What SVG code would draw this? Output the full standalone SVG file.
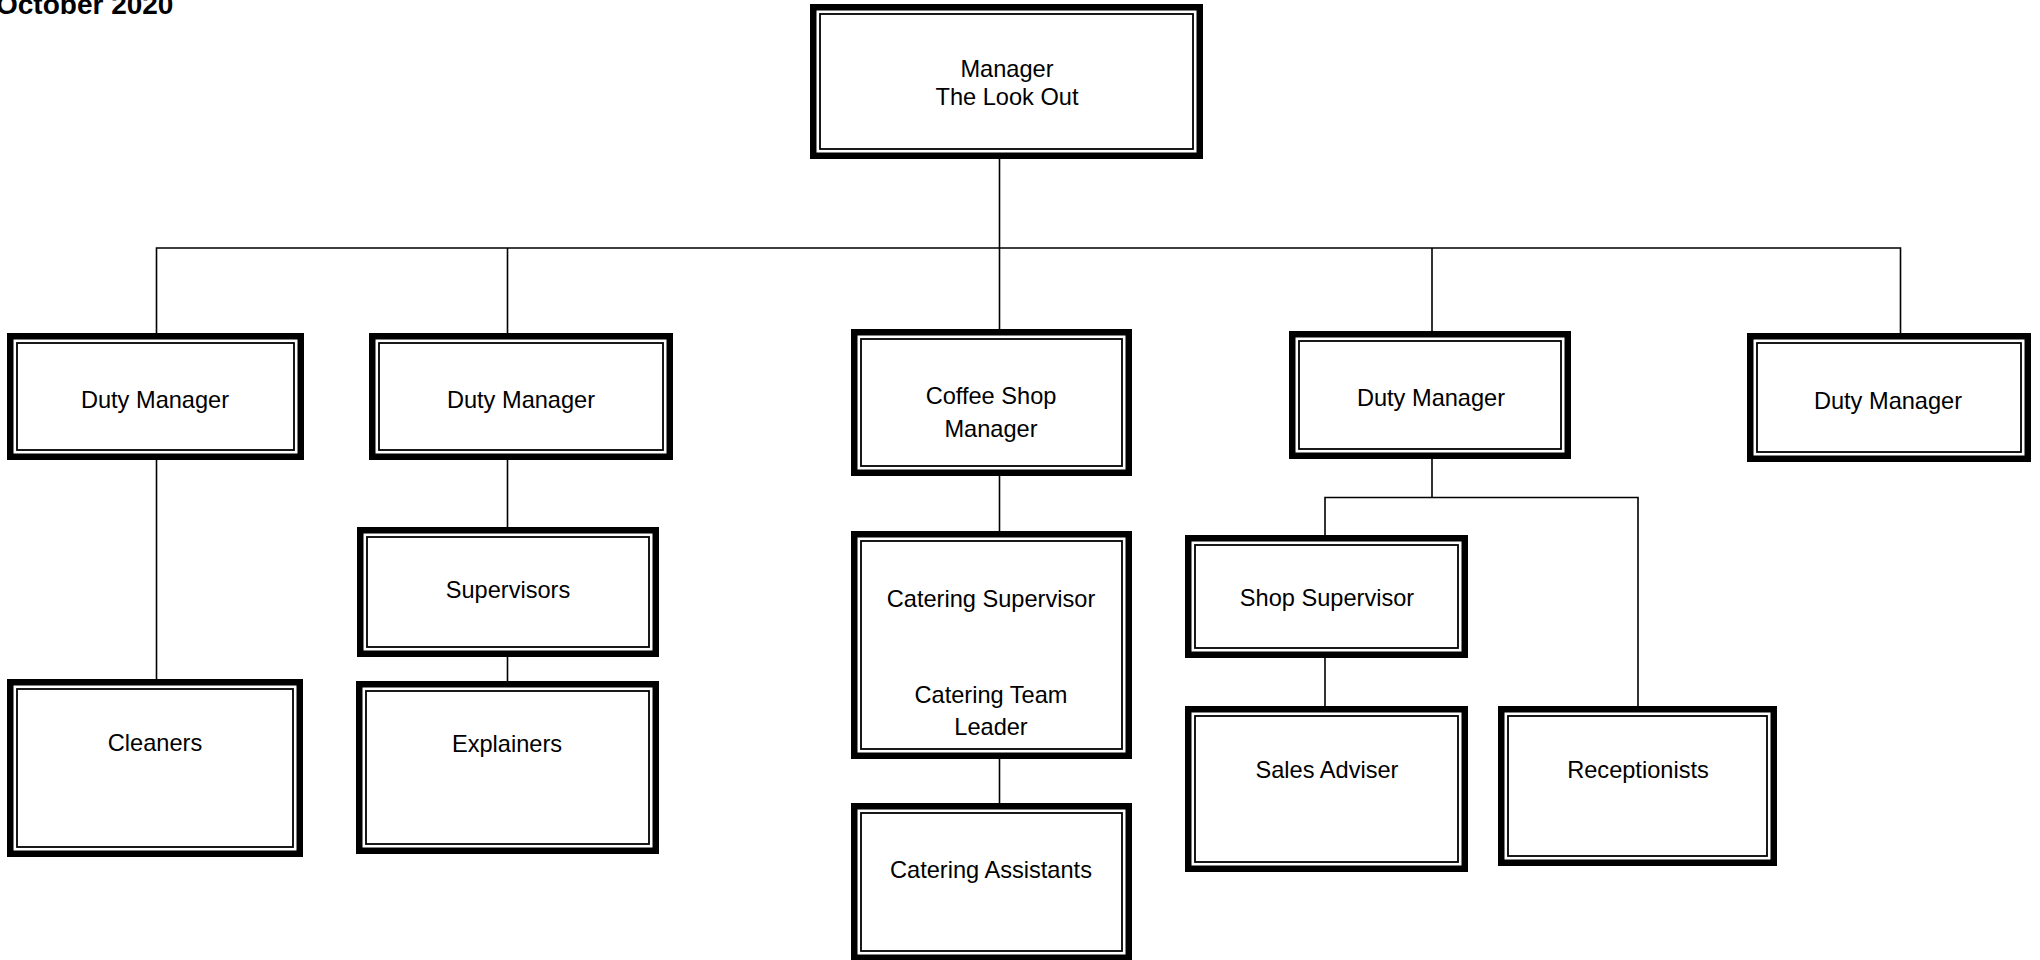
<svg xmlns="http://www.w3.org/2000/svg" width="2040" height="960" viewBox="0 0 2040 960">
<style>
.thick{fill:#fff;stroke:#000;stroke-width:6.5}
.thin{fill:none;stroke:#000;stroke-width:1.8}
.lbl{font-family:"Liberation Sans",Arial,sans-serif;font-size:23.6px;fill:#000;text-anchor:middle}
.title{font-family:"Liberation Sans",Arial,sans-serif;font-size:28px;font-weight:bold;fill:#000}
.conn{stroke:#000;stroke-width:1.6;fill:none}
</style>
<rect width="2040" height="960" fill="#fff"/>
<text class="title" x="-4" y="14">October 2020</text>
<g id="connectors">
<path class="conn" d="M999.5 157V329M999.5 476V531M999.5 759V803"/>
<path class="conn" d="M156.5 333V248H1900.5V333"/>
<path class="conn" d="M156.5 460V679"/>
<path class="conn" d="M507.5 248V333M507.5 460V527M507.5 657V681"/>
<path class="conn" d="M1432 248V331M1432 459V497.5"/>
<path class="conn" d="M1325 535V497.5H1638V706"/>
<path class="conn" d="M1325 658V706"/>
</g>
<g id="manager">
<rect class="thick" x="813.25" y="7.25" width="386.5" height="148.5"/>
<rect class="thin" x="820" y="14" width="373" height="135"/>
<text class="lbl" x="1007" y="77">Manager</text>
<text class="lbl" x="1007" y="105">The Look Out</text>
</g>
<g id="duty1">
<rect class="thick" x="10.25" y="336.25" width="290.5" height="120.5"/>
<rect class="thin" x="17" y="343" width="277" height="107"/>
<text class="lbl" x="155" y="408">Duty Manager</text>
</g>
<g id="duty2">
<rect class="thick" x="372.25" y="336.25" width="297.5" height="120.5"/>
<rect class="thin" x="379" y="343" width="284" height="107"/>
<text class="lbl" x="521" y="408">Duty Manager</text>
</g>
<g id="coffee">
<rect class="thick" x="854.25" y="332.25" width="274.5" height="140.5"/>
<rect class="thin" x="861" y="339" width="261" height="127"/>
<text class="lbl" x="991" y="404">Coffee Shop</text>
<text class="lbl" x="991" y="437">Manager</text>
</g>
<g id="duty4">
<rect class="thick" x="1292.25" y="334.25" width="275.5" height="121.5"/>
<rect class="thin" x="1299" y="341" width="262" height="108"/>
<text class="lbl" x="1431" y="406">Duty Manager</text>
</g>
<g id="duty5">
<rect class="thick" x="1750.25" y="336.25" width="277.5" height="122.5"/>
<rect class="thin" x="1757" y="343" width="264" height="109"/>
<text class="lbl" x="1888" y="409">Duty Manager</text>
</g>
<g id="supervisors">
<rect class="thick" x="360.25" y="530.25" width="295.5" height="123.5"/>
<rect class="thin" x="367" y="537" width="282" height="110"/>
<text class="lbl" x="508" y="598">Supervisors</text>
</g>
<g id="cleaners">
<rect class="thick" x="10.25" y="682.25" width="289.5" height="171.5"/>
<rect class="thin" x="17" y="689" width="276" height="158"/>
<text class="lbl" x="155" y="751">Cleaners</text>
</g>
<g id="explainers">
<rect class="thick" x="359.25" y="684.25" width="296.5" height="166.5"/>
<rect class="thin" x="366" y="691" width="283" height="153"/>
<text class="lbl" x="507" y="752">Explainers</text>
</g>
<g id="catering-supervisor">
<rect class="thick" x="854.25" y="534.25" width="274.5" height="221.5"/>
<rect class="thin" x="861" y="541" width="261" height="208"/>
<text class="lbl" x="991" y="607">Catering Supervisor</text>
<text class="lbl" x="991" y="703">Catering Team</text>
<text class="lbl" x="991" y="735">Leader</text>
</g>
<g id="catering-assistants">
<rect class="thick" x="854.25" y="806.25" width="274.5" height="151.5"/>
<rect class="thin" x="861" y="813" width="261" height="138"/>
<text class="lbl" x="991" y="878">Catering Assistants</text>
</g>
<g id="shop-supervisor">
<rect class="thick" x="1188.25" y="538.25" width="276.5" height="116.5"/>
<rect class="thin" x="1195" y="545" width="263" height="103"/>
<text class="lbl" x="1327" y="606">Shop Supervisor</text>
</g>
<g id="sales-adviser">
<rect class="thick" x="1188.25" y="709.25" width="276.5" height="159.5"/>
<rect class="thin" x="1195" y="716" width="263" height="146"/>
<text class="lbl" x="1327" y="778">Sales Adviser</text>
</g>
<g id="receptionists">
<rect class="thick" x="1501.25" y="709.25" width="272.5" height="153.5"/>
<rect class="thin" x="1508" y="716" width="259" height="140"/>
<text class="lbl" x="1638" y="778">Receptionists</text>
</g>
</svg>
